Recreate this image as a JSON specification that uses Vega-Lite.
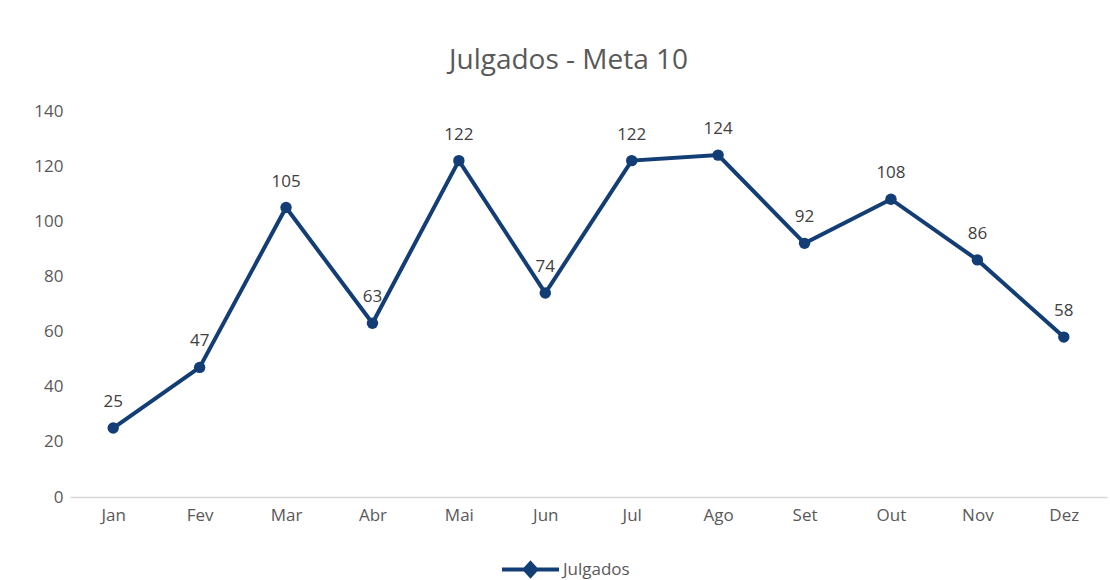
{
  "$schema": "https://vega.github.io/schema/vega-lite/v6.json",
  "autosize": "none",
  "width": 1037,
  "height": 386,
  "padding": {"left": 70, "top": 111, "right": 3, "bottom": 83},
  "background": "white",
  "title": {
    "text": "Julgados - Meta 10",
    "fontSize": 28,
    "font": "Open Sans",
    "fontWeight": "normal",
    "color": "#595959",
    "offset": 27,
    "anchor": "middle",
    "dx": -20
  },
  "data": {
    "values": [
      {"mes": "Jan", "valor": 25, "serie": "Julgados"},
      {"mes": "Fev", "valor": 47, "serie": "Julgados"},
      {"mes": "Mar", "valor": 105, "serie": "Julgados"},
      {"mes": "Abr", "valor": 63, "serie": "Julgados"},
      {"mes": "Mai", "valor": 122, "serie": "Julgados"},
      {"mes": "Jun", "valor": 74, "serie": "Julgados"},
      {"mes": "Jul", "valor": 122, "serie": "Julgados"},
      {"mes": "Ago", "valor": 124, "serie": "Julgados"},
      {"mes": "Set", "valor": 92, "serie": "Julgados"},
      {"mes": "Out", "valor": 108, "serie": "Julgados"},
      {"mes": "Nov", "valor": 86, "serie": "Julgados"},
      {"mes": "Dez", "valor": 58, "serie": "Julgados"}
    ]
  },
  "encoding": {
    "x": {
      "field": "mes",
      "type": "ordinal",
      "sort": null,
      "scale": {"type": "point", "padding": 0.5},
      "axis": {
        "title": null,
        "labelAngle": 0,
        "ticks": false,
        "domainColor": "#D9D9D9",
        "domainWidth": 1.5,
        "labelPadding": 10,
        "labelFontSize": 17,
        "labelFont": "Open Sans",
        "labelColor": "#595959"
      }
    },
    "y": {
      "field": "valor",
      "type": "quantitative",
      "scale": {"domain": [0, 140], "nice": false},
      "axis": {
        "title": null,
        "values": [0, 20, 40, 60, 80, 100, 120, 140],
        "grid": false,
        "domain": false,
        "ticks": false,
        "labelPadding": 7,
        "labelFontSize": 17,
        "labelFont": "Open Sans",
        "labelColor": "#595959"
      }
    }
  },
  "layer": [
    {
      "mark": {"type": "line", "strokeWidth": 4, "point": {"size": 130, "filled": true, "opacity": 1}},
      "encoding": {
        "color": {
          "field": "serie",
          "type": "nominal",
          "scale": {"range": ["#123D75"]},
          "legend": {
            "title": null,
            "orient": "none",
            "legendX": 430,
            "legendY": 428,
            "symbolType": "M-1,0L1,0M0,-0.22L0.2,0L0,0.22L-0.2,0Z",
            "symbolSize": 3249,
            "symbolStrokeWidth": 4,
            "symbolFillColor": "#123D75",
            "symbolStrokeColor": "#123D75",
            "symbolOffset": 0,
            "labelFontSize": 17,
            "labelFont": "Open Sans",
            "labelColor": "#595959",
            "labelOffset": 2
          }
        }
      }
    },
    {
      "mark": {"type": "text", "dy": -26, "baseline": "middle", "fontSize": 17, "font": "Open Sans", "color": "#404040"},
      "encoding": {
        "text": {"field": "valor", "type": "quantitative"}
      }
    }
  ],
  "config": {
    "view": {"stroke": null}
  }
}
